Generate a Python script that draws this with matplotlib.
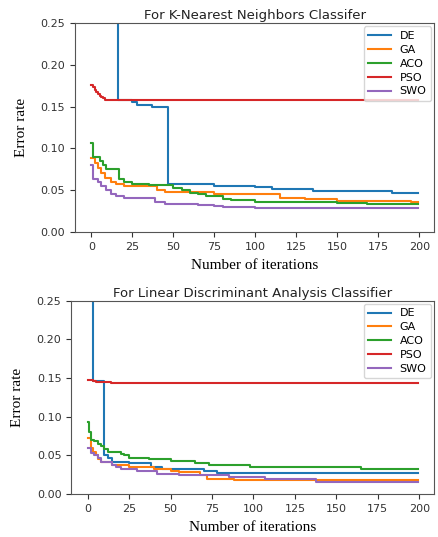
import numpy as np
import matplotlib
matplotlib.use('Agg')
import matplotlib.pyplot as plt

labels = ['DE', 'GA', 'ACO', 'PSO', 'SWO']
colors = ['#1f77b4', '#ff7f0e', '#2ca02c', '#d62728', '#9467bd']

# K-Nearest Neighbors: (iteration where value starts, value)
knn_de_it = [0, 16, 25, 28, 37, 47, 75, 100, 110, 135, 183, 199]
knn_de = [0.40, 0.158, 0.156, 0.152, 0.150, 0.057, 0.055, 0.054, 0.052, 0.049, 0.047, 0.047]
knn_ga_it = [0, 2, 4, 6, 8, 12, 15, 20, 40, 45, 75, 115, 130, 150, 195, 199]
knn_ga = [0.088, 0.083, 0.077, 0.070, 0.065, 0.060, 0.058, 0.055, 0.050, 0.048, 0.046,
          0.041, 0.039, 0.037, 0.036, 0.036]
knn_aco_it = [0, 1, 5, 7, 9, 17, 20, 25, 35, 50, 55, 60, 65, 70, 80, 85, 100, 150, 168, 199]
knn_aco = [0.107, 0.090, 0.085, 0.080, 0.075, 0.063, 0.060, 0.058, 0.056, 0.053, 0.050,
           0.047, 0.045, 0.043, 0.040, 0.038, 0.036, 0.035, 0.033, 0.033]
knn_pso_it = [0, 1, 2, 3, 4, 5, 6, 7, 8, 199]
knn_pso = [0.176, 0.173, 0.170, 0.167, 0.165, 0.163, 0.162, 0.160, 0.158, 0.158]
knn_swo_it = [0, 1, 4, 6, 9, 12, 15, 20, 39, 45, 65, 75, 80, 100, 199]
knn_swo = [0.080, 0.063, 0.060, 0.055, 0.050, 0.046, 0.043, 0.041, 0.036, 0.034, 0.032,
           0.031, 0.030, 0.029, 0.029]

# Linear Discriminant Analysis
lda_de_it = [0, 3, 10, 12, 15, 25, 38, 45, 70, 78, 199]
lda_de = [0.40, 0.146, 0.050, 0.047, 0.042, 0.040, 0.035, 0.033, 0.030, 0.027, 0.027]
lda_ga_it = [0, 2, 3, 5, 6, 8, 15, 25, 40, 50, 55, 68, 72, 88, 199]
lda_ga = [0.072, 0.060, 0.055, 0.050, 0.045, 0.041, 0.038, 0.035, 0.032, 0.030, 0.028,
          0.024, 0.020, 0.018, 0.018]
lda_aco_it = [0, 1, 2, 4, 6, 8, 10, 12, 20, 22, 25, 37, 50, 65, 73, 88, 98, 165, 199]
lda_aco = [0.093, 0.080, 0.070, 0.068, 0.065, 0.062, 0.058, 0.054, 0.052, 0.050, 0.047,
           0.045, 0.043, 0.040, 0.038, 0.037, 0.035, 0.033, 0.033]
lda_pso_it = [0, 3, 5, 14, 18, 199]
lda_pso = [0.148, 0.146, 0.145, 0.144, 0.143, 0.143]
lda_swo_it = [0, 2, 4, 6, 8, 15, 17, 20, 30, 42, 55, 75, 85, 107, 138, 199]
lda_swo = [0.060, 0.053, 0.050, 0.046, 0.042, 0.038, 0.035, 0.033, 0.030, 0.026, 0.025,
           0.024, 0.022, 0.019, 0.015, 0.015]

panels = [
    ('For K-Nearest Neighbors Classifer',
     [(knn_de_it, knn_de), (knn_ga_it, knn_ga), (knn_aco_it, knn_aco),
      (knn_pso_it, knn_pso), (knn_swo_it, knn_swo)],
     [0.171, 0.568, 0.818, 0.389]),
    ('For Linear Discriminant Analysis Classifier',
     [(lda_de_it, lda_de), (lda_ga_it, lda_ga), (lda_aco_it, lda_aco),
      (lda_pso_it, lda_pso), (lda_swo_it, lda_swo)],
     [0.162, 0.080, 0.827, 0.360]),
]

fig = plt.figure(figsize=(4.39, 5.37), dpi=100)
serif = ['Liberation Serif', 'DejaVu Serif']

for title, series, rect in panels:
    ax = fig.add_axes(rect)
    for (it, val), lab, c in zip(series, labels, colors):
        ax.plot(it, val, drawstyle='steps-post', color=c, label=lab, lw=1.5)
    ax.set_xlim(-9.95, 208.95)
    ax.set_ylim(0, 0.25)
    ax.set_xticks(np.arange(0, 201, 25))
    ax.set_yticks(np.arange(0, 0.26, 0.05))
    ax.tick_params(labelsize=8, colors='#333333')
    for s in ax.spines.values():
        s.set_color('#555555')
    ax.set_title(title, fontsize=9.5, pad=3, color='#222222')
    ax.set_xlabel('Number of iterations', family=serif, fontsize=11, labelpad=5)
    ax.set_ylabel('Error rate', family=serif, fontsize=11, labelpad=9)
    ax.legend(loc='upper right', fontsize=8, handlelength=2.0,
              borderaxespad=0.3, labelspacing=0.35)

fig.savefig('out.png', dpi=100)
